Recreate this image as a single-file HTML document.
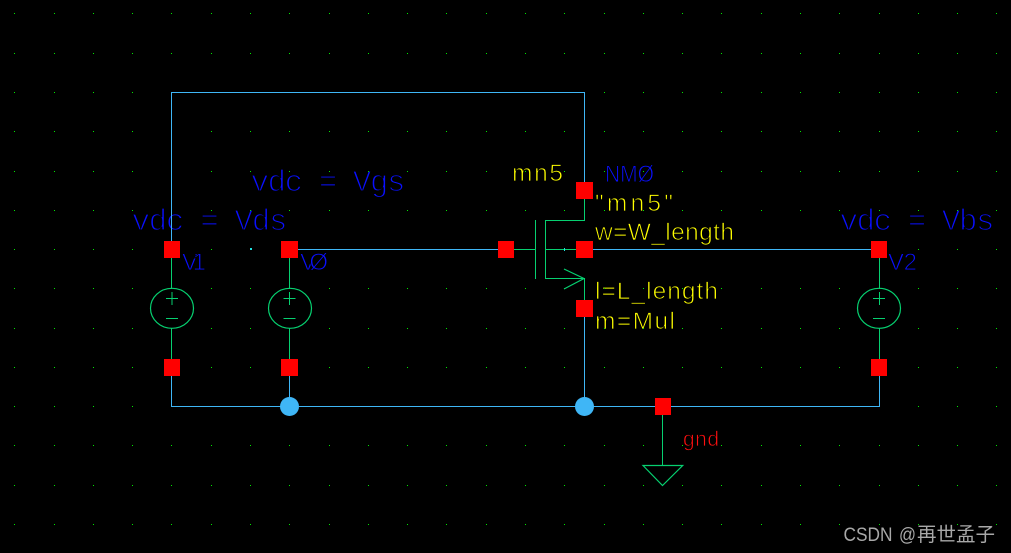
<!DOCTYPE html>
<html>
<head>
<meta charset="utf-8">
<style>
html,body{margin:0;padding:0;background:#000;width:1011px;height:553px;overflow:hidden}
svg{display:block}
text{font-family:"Liberation Sans","Noto Sans CJK SC",sans-serif;stroke:#000;paint-order:normal}
.b30{font-family:"Liberation Mono",monospace;font-size:31px;fill:#0a10ff;stroke-width:1.3}
.b24{font-size:24px;fill:#0a10ff;stroke-width:.9}
.y{font-size:24.5px;fill:#ffff00;stroke-width:.85}
.r{font-size:21px;fill:#ff1010;stroke-width:.7}
.wm{fill:#a8a8a8;stroke:none}
.w{fill:none;stroke:#3fb6f6;stroke-width:1.2}
.g{fill:none;stroke:#06d070;stroke-width:1.2}
</style>
</head>
<body>
<svg width="1011" height="553" viewBox="0 0 1011 553" xmlns="http://www.w3.org/2000/svg">
<rect width="1011" height="553" fill="#000"/>

<!-- labels -->
<text class="b30" x="250.5" y="191" textLength="155" lengthAdjust="spacing" xml:space="preserve">vdc = Vgs</text>
<text class="b30" x="131.5" y="230" textLength="156" lengthAdjust="spacing" xml:space="preserve">vdc = Vds</text>
<text class="b30" x="839.5" y="230" textLength="155" lengthAdjust="spacing" xml:space="preserve">vdc = Vbs</text>
<text class="b24" x="182" y="270" textLength="24" lengthAdjust="spacing">V1</text>
<text class="b24" x="300" y="270" textLength="28" lengthAdjust="spacing">VØ</text>
<text class="b24" x="888" y="270" textLength="29" lengthAdjust="spacing">V2</text>
<text class="b24" x="605" y="182" textLength="49" lengthAdjust="spacingAndGlyphs">NMØ</text>
<text class="y" x="512" y="181" textLength="51" lengthAdjust="spacing">mn5</text>
<text class="y" x="595" y="211" textLength="78" lengthAdjust="spacing">"mn5"</text>
<text class="y" x="595" y="240" textLength="139" lengthAdjust="spacing">w=W_length</text>
<text class="y" x="595" y="299" textLength="123" lengthAdjust="spacing">l=L_length</text>
<text class="y" x="595" y="329" textLength="80" lengthAdjust="spacing">m=Mul</text>
<text class="r" x="683" y="446" textLength="36" lengthAdjust="spacing">gnd</text>

<!-- grid -->
<defs>
<g id="c" fill="#00e800">
<rect x="0" y="13" width="1" height="1"/><rect x="0" y="53" width="1" height="1"/><rect x="0" y="92" width="1" height="1"/><rect x="0" y="131" width="1" height="1"/><rect x="0" y="171" width="1" height="1"/><rect x="0" y="210" width="1" height="1"/><rect x="0" y="249" width="1" height="1"/><rect x="0" y="288" width="1" height="1"/><rect x="0" y="328" width="1" height="1"/><rect x="0" y="367" width="1" height="1"/><rect x="0" y="406" width="1" height="1"/><rect x="0" y="445" width="1" height="1"/><rect x="0" y="485" width="1" height="1"/><rect x="0" y="524" width="1" height="1"/>
</g>
</defs>
<g shape-rendering="crispEdges">
<use href="#c" x="14"/><use href="#c" x="54"/><use href="#c" x="93"/><use href="#c" x="132"/><use href="#c" x="171"/><use href="#c" x="211"/><use href="#c" x="250"/><use href="#c" x="289"/><use href="#c" x="329"/><use href="#c" x="368"/><use href="#c" x="407"/><use href="#c" x="446"/><use href="#c" x="486"/><use href="#c" x="525"/><use href="#c" x="564"/><use href="#c" x="604"/><use href="#c" x="643"/><use href="#c" x="682"/><use href="#c" x="721"/><use href="#c" x="761"/><use href="#c" x="800"/><use href="#c" x="839"/><use href="#c" x="879"/><use href="#c" x="918"/><use href="#c" x="957"/><use href="#c" x="996"/>
</g>

<!-- blue wires -->
<g class="w" shape-rendering="crispEdges">
<path d="M171.5 249V92.5H584.5V182"/>
<path d="M171.5 376V406.5H879.5V376"/>
<path d="M289.5 376V406"/>
<path d="M584.5 317V406"/>
<path d="M298 249.5H498"/>
<path d="M593 249.5H871"/>
</g>

<!-- green instance wiring -->
<g class="g">
<path d="M171.5 258V288M171.5 328V359" shape-rendering="crispEdges"/>
<path d="M289.5 258V288M289.5 328V359" shape-rendering="crispEdges"/>
<path d="M879.5 258V288M879.5 328V359" shape-rendering="crispEdges"/>
<ellipse cx="172" cy="308.3" rx="21.5" ry="20"/>
<ellipse cx="290" cy="308.3" rx="21.5" ry="20"/>
<ellipse cx="879" cy="308.3" rx="21.5" ry="20"/>
<path d="M166 298.5H178M172 292V305M166 318.5H178" shape-rendering="crispEdges"/>
<path d="M283.5 298.5H295.5M289.5 292V305M283.5 318.5H295.5" shape-rendering="crispEdges"/>
<path d="M873 298.5H885M879.5 292V305M873 318.5H885" shape-rendering="crispEdges"/>
<!-- mosfet -->
<path d="M514 249.5H535.5M535.5 220V279M545.5 249.5H576" shape-rendering="crispEdges"/>
<path d="M584.5 199V220.5H545.5V278.5H584.5V300" shape-rendering="crispEdges"/>
<path d="M564 269L584 278.5L564 289"/>
<!-- ground -->
<path d="M662.5 415V465.5" shape-rendering="crispEdges"/>
<path d="M643 465.5H682.7L662.5 485.5Z"/>
</g>
<rect x="564" y="248" width="1" height="3" fill="#20e0e0"/>
<rect x="250" y="248" width="2" height="2" fill="#20e0e0"/>

<!-- pins -->
<g fill="#ff0000" shape-rendering="crispEdges">
<rect x="164" y="241" width="16" height="17"/>
<rect x="281" y="241" width="17" height="17"/>
<rect x="871" y="241" width="16" height="17"/>
<rect x="164" y="359" width="16" height="17"/>
<rect x="281" y="359" width="17" height="17"/>
<rect x="871" y="359" width="16" height="17"/>
<rect x="576" y="182" width="17" height="17"/>
<rect x="498" y="241" width="16" height="17"/>
<rect x="576" y="241" width="17" height="17"/>
<rect x="576" y="300" width="17" height="17"/>
<rect x="655" y="398" width="16" height="17"/>
</g>

<!-- junctions -->
<circle cx="289.5" cy="406.5" r="9.5" fill="#3fb6f6"/>
<circle cx="584.5" cy="406.5" r="9.5" fill="#3fb6f6"/>

<!-- watermark -->
<text class="wm" x="843.5" y="541" style="font-size:19px" textLength="49" lengthAdjust="spacingAndGlyphs">CSDN</text>
<text class="wm" x="899" y="541" style="font-size:19px" textLength="17" lengthAdjust="spacingAndGlyphs">@</text>
<text class="wm" x="917" y="541" style="font-size:19.5px">再世孟子</text>
</svg>
</body>
</html>
